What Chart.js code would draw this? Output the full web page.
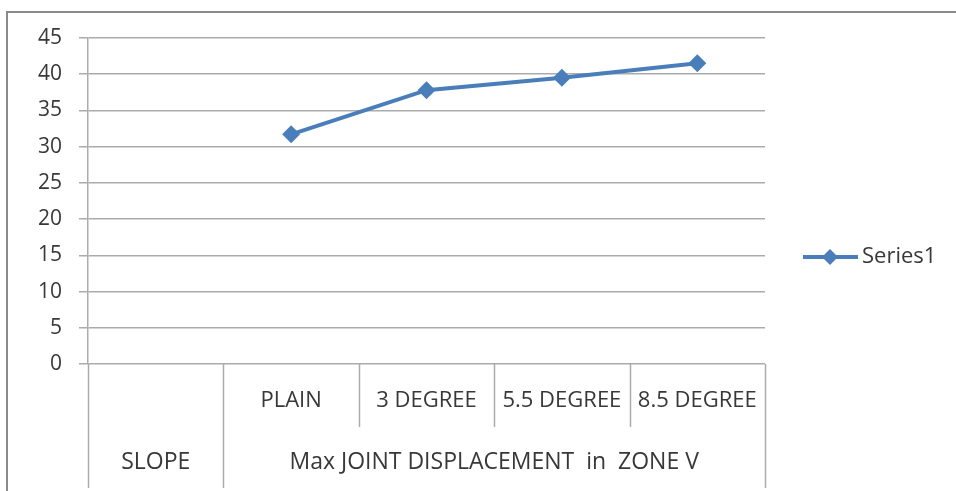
<!DOCTYPE html>
<html>
<head>
<meta charset="utf-8">
<script src="https://cdn.jsdelivr.net/npm/chart.js@4.4.1/dist/chart.umd.min.js"></script>
<style>
  html, body { margin: 0; padding: 0; background: #ffffff; }
  #wrap { position: relative; width: 956px; height: 491px; }
</style>
</head>
<body>
<div id="wrap"><canvas id="c" width="956" height="491"></canvas></div>
<script>
// ---- data ----
const categories = ['', 'PLAIN', '3 DEGREE', '5.5 DEGREE', '8.5 DEGREE'];
const groupLabels = ['SLOPE', 'Max JOINT DISPLACEMENT  in  ZONE V'];
const groupSpans = [1, 4];
const seriesName = 'Series1';
const seriesValues = [null, 31.7, 37.8, 39.5, 41.5];
const yTicks = [0, 5, 10, 15, 20, 25, 30, 35, 40, 45];

const FONT = '"Open Sans", "Liberation Sans", sans-serif';
const TEXT = '#383838';
const GRID = '#ababab';
const BLUE = '#4a7ebb';

const frameAndGroups = {
  id: 'frameAndGroups',
  beforeDraw(chart) {
    const ctx = chart.ctx;
    ctx.save();
    ctx.strokeStyle = '#8a8a8a';
    ctx.lineWidth = 2;
    ctx.beginPath();
    ctx.moveTo(7, 1000);
    ctx.lineTo(7, 12);
    ctx.lineTo(1000, 12);
    ctx.stroke();
    ctx.restore();
  },
  afterDraw(chart) {
    const ctx = chart.ctx;
    const xs = chart.scales.x;
    const area = chart.chartArea;
    const n = categories.length;
    const w = (area.right - area.left) / n;
    const edge = i => xs.getPixelForValue(i) - w / 2;
    const top = area.bottom;
    const mid = top + 63;
    const bottom = top + 124;
    ctx.save();
    ctx.strokeStyle = GRID;
    ctx.lineWidth = 1.5;
    let idx = 0;
    const groupEdges = [0];
    groupSpans.forEach(s => { idx += s; groupEdges.push(idx); });
    for (let i = 0; i <= n; i++) {
      const x = i < n ? edge(i) : edge(n - 1) + w;
      const full = groupEdges.includes(i);
      ctx.beginPath();
      ctx.moveTo(Math.round(x) + 0.5, top);
      ctx.lineTo(Math.round(x) + 0.5, full ? bottom : mid);
      ctx.stroke();
    }
    // group labels
    ctx.fillStyle = TEXT;
    ctx.font = '23px ' + FONT;
    ctx.textAlign = 'center';
    ctx.textBaseline = 'middle';
    let start = 0;
    groupLabels.forEach((lab, g) => {
      const end = start + groupSpans[g];
      const x0 = edge(start);
      const x1 = edge(end - 1) + w;
      ctx.fillText(lab, (x0 + x1) / 2, top + 98);
      start = end;
    });
    // legend
    const ds = chart.data.datasets[0];
    const ly = 257;
    const lx = area.right + 38;
    ctx.strokeStyle = ds.borderColor;
    ctx.lineWidth = 4;
    ctx.beginPath();
    ctx.moveTo(lx, ly);
    ctx.lineTo(lx + 55, ly);
    ctx.stroke();
    ctx.fillStyle = ds.backgroundColor;
    const cx = lx + 27, r = 8;
    ctx.beginPath();
    ctx.moveTo(cx - r, ly); ctx.lineTo(cx, ly - r); ctx.lineTo(cx + r, ly); ctx.lineTo(cx, ly + r);
    ctx.closePath();
    ctx.fill();
    ctx.fillStyle = TEXT;
    ctx.textAlign = 'left';
    ctx.font = '22px ' + FONT;
    ctx.fillText(ds.label, lx + 59, ly);
    ctx.restore();
  }
};

new Chart(document.getElementById('c'), {
  type: 'line',
  data: {
    labels: categories,
    datasets: [{
      label: seriesName,
      data: seriesValues,
      borderColor: BLUE,
      backgroundColor: BLUE,
      borderWidth: 4,
      pointStyle: 'rectRot',
      pointRadius: 9,
      pointHoverRadius: 9,
      pointBorderWidth: 0,
      tension: 0,
      spanGaps: false
    }]
  },
  options: {
    responsive: false,
    animation: false,
    devicePixelRatio: 1,
    layout: { padding: { left: 0, top: 38, right: 191, bottom: 0 } },
    plugins: { legend: { display: false }, tooltip: { enabled: false } },
    scales: {
      x: {
        type: 'category',
        offset: true,
        grid: { display: false, drawTicks: false },
        border: { display: false },
        ticks: { color: TEXT, font: { family: FONT, size: 22 }, padding: 24, maxRotation: 0, autoSkip: false },
        afterFit(s) { s.height = 491 - 364; }
      },
      y: {
        min: 0, max: 45,
        afterBuildTicks(s) { s.ticks = yTicks.map(v => ({ value: v })); },
        grid: { color: GRID, lineWidth: 1.5, tickLength: 9, drawTicks: true },
        border: { display: true, color: GRID, width: 1.5 },
        ticks: { color: TEXT, font: { family: FONT, size: 21 }, padding: 17 },
        afterFit(s) { s.width = 88; }
      }
    }
  },
  plugins: [frameAndGroups]
});
</script>
</body>
</html>
